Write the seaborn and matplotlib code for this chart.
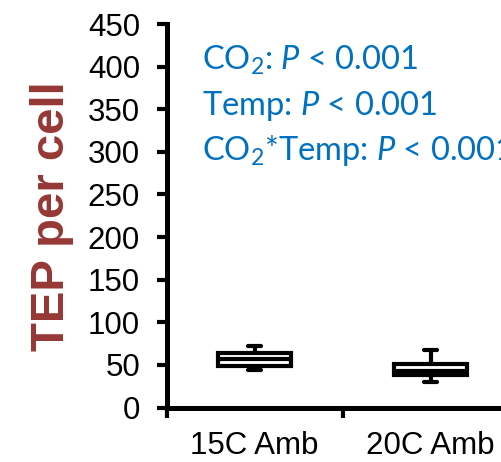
import matplotlib
matplotlib.use("Agg")
import matplotlib.pyplot as plt
import seaborn as sns
import pandas as pd
import numpy as np

# Data (five-number summaries)
categories = ["15C Amb", "20C Amb"]
vals_15C = [44.5, 49.2, 56.8, 64.5, 72.7]
vals_20C = [30.5, 38.7, 43.4, 51.6, 68.0]
yticks = [0, 50, 100, 150, 200, 250, 300, 350, 400, 450]
ylabel = "TEP per cell"
annot_lines = [
    r"CO$_2$: $\mathit{P}$ < 0.001",
    r"Temp: $\mathit{P}$ < 0.001",
    r"CO$_2$*Temp: $\mathit{P}$ < 0.001",
]

sns.set_theme(style="white")
plt.rcParams["font.family"] = ["Liberation Sans", "DejaVu Sans"]
plt.rcParams["mathtext.fontset"] = "custom"
plt.rcParams["mathtext.rm"] = "Lato"
plt.rcParams["mathtext.it"] = "Lato:italic"

df = pd.DataFrame({
    "group": [categories[0]] * len(vals_15C) + [categories[1]] * len(vals_20C),
    "value": vals_15C + vals_20C,
})

fig = plt.figure(figsize=(5.01, 4.62), dpi=100)
left = 166.5 / 501
bottom = (462 - 407.5) / 462
top = (462 - 24) / 462
width = (176 * 2) / 501
ax = fig.add_axes([left, bottom, width, top - bottom])

sns.boxplot(data=df, x="group", y="value", order=categories, ax=ax,
            width=0.42, whis=(0, 100), color="white", linecolor="black",
            linewidth=3.0, capwidths=0.07,
            medianprops=dict(color="black", linewidth=3.0))

ax.set_xlim(-0.5, 1.5)
ax.set_ylim(0, 450)
ax.set_yticks(yticks)
ax.set_xlabel("")
ax.set_ylabel(ylabel, fontsize=34, fontweight="bold", color="#953735", labelpad=10)

for s in ["top", "right"]:
    ax.spines[s].set_visible(False)
for s in ["left", "bottom"]:
    ax.spines[s].set_linewidth(3.6)
    ax.spines[s].set_color("black")
    ax.spines[s].set_capstyle("projecting")

ax.tick_params(axis="y", which="major", direction="out", length=7, width=3.0,
               color="black", labelsize=22.5, pad=12, left=True, labelcolor="black")
ax.set_xticks([-0.5, 0.5, 1.5], minor=True)
ax.tick_params(axis="x", which="major", length=0, labelsize=22.5, pad=17, labelcolor="black")
ax.tick_params(axis="x", which="minor", direction="out", length=7, width=3.0,
               color="black", bottom=True)

# annotation text
y0 = 462 - 70
for i, line in enumerate(annot_lines):
    yb = (y0 - 45 * i) / 462
    fig.text(202 / 501, yb, line, fontsize=23.5, color="#0070C0",
             family=["Lato", "DejaVu Sans"], va="baseline")

fig.savefig("out.png", dpi=100)
